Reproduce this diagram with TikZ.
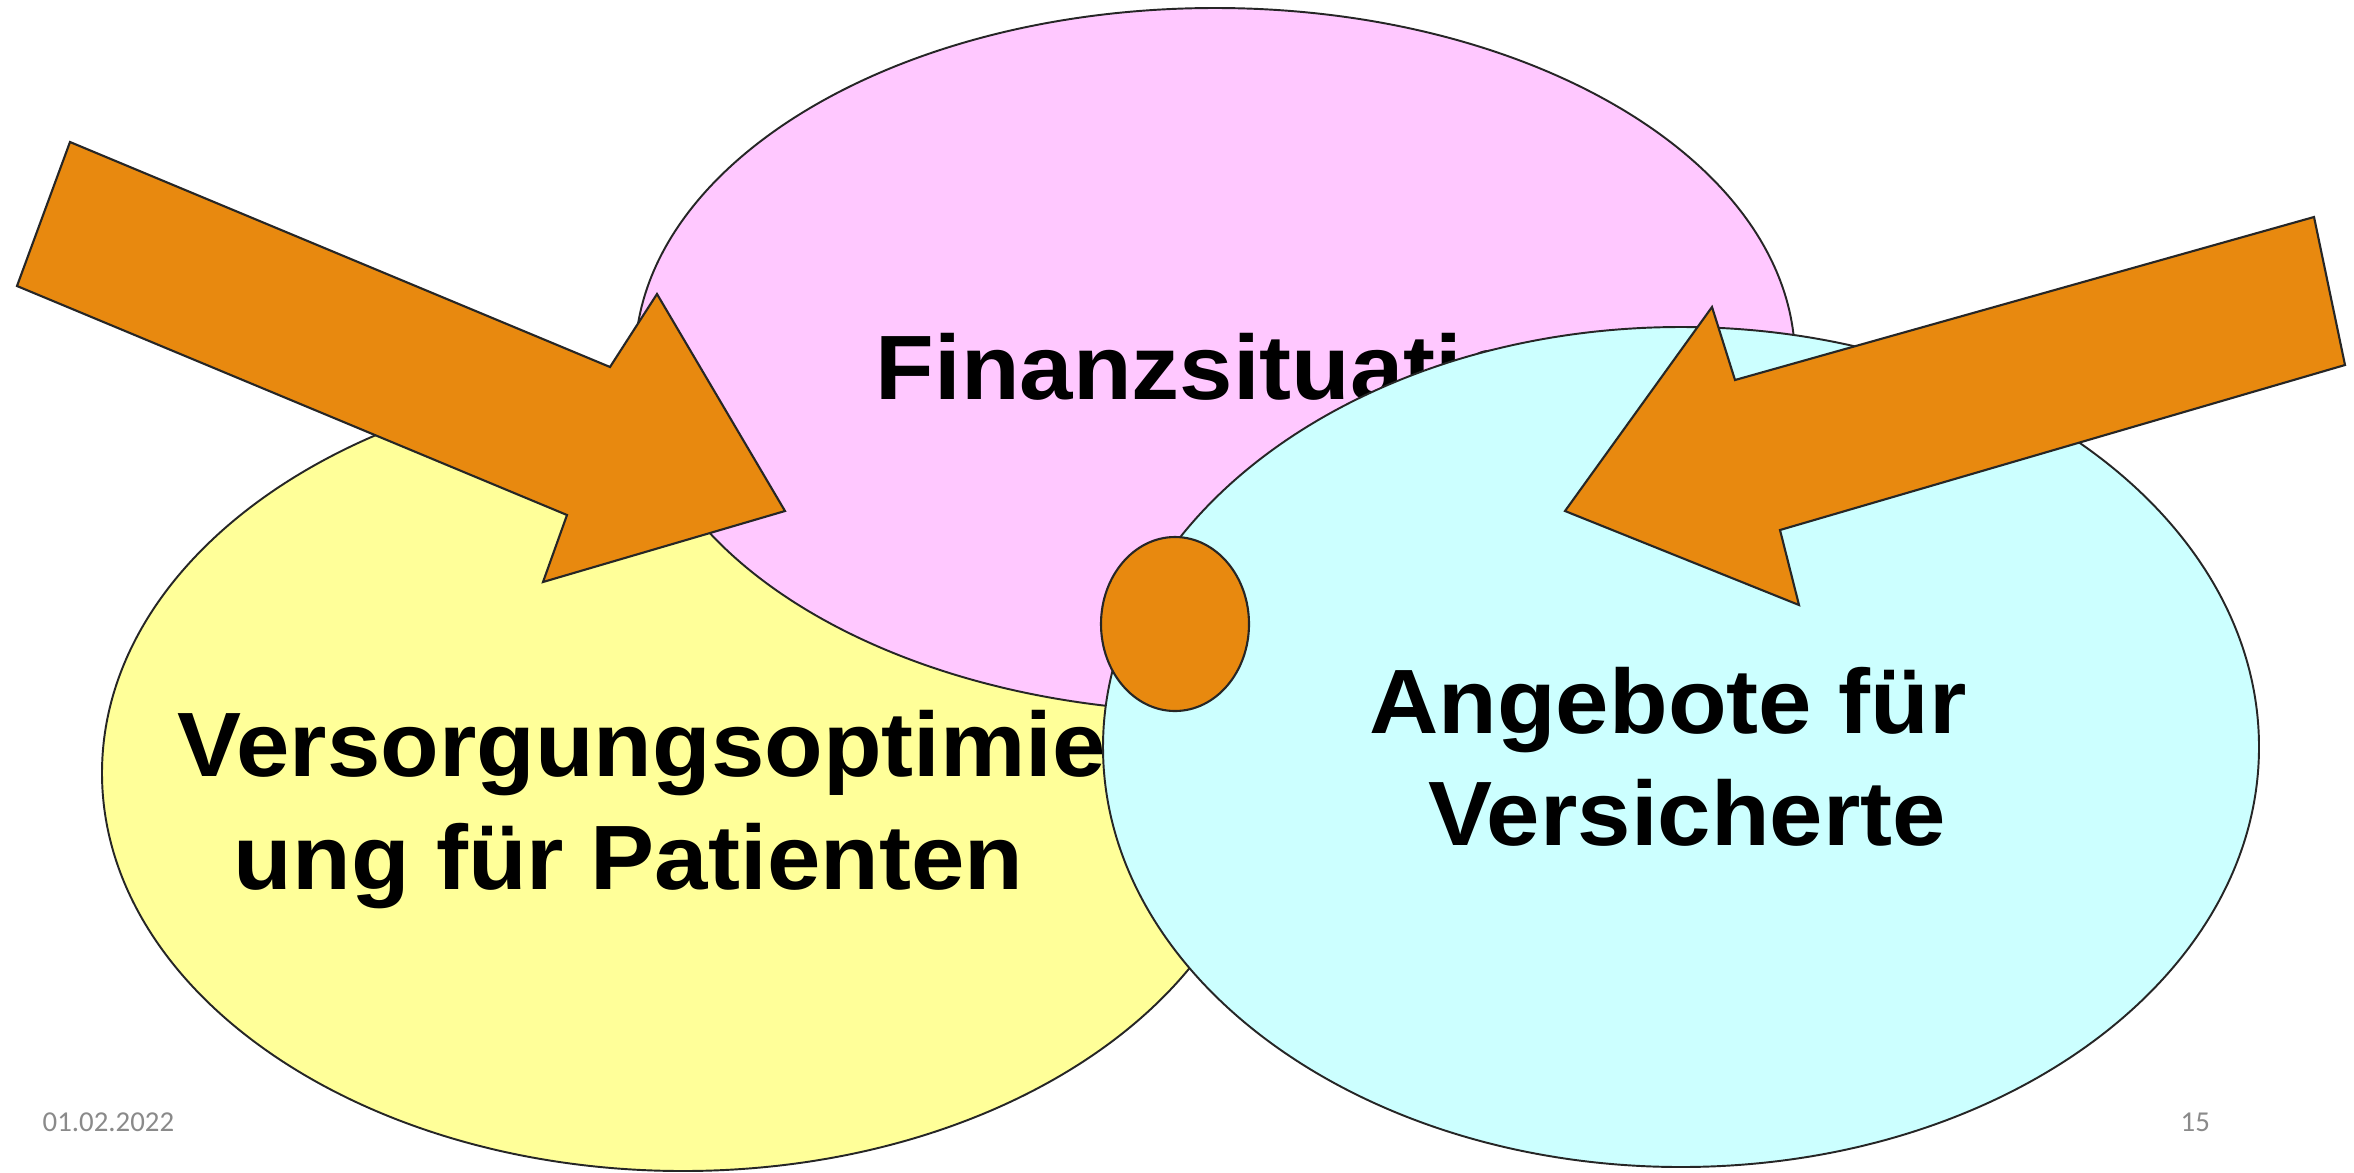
\documentclass[tikz,border=0pt]{standalone}
\usepackage{fontspec}
\setmainfont{Liberation Sans}
\newfontfamily\labelfont[FakeStretch=1.05]{Liberation Sans}
\newfontfamily\footfont{Carlito}
\usetikzlibrary{positioning}

\definecolor{pinkfill}{HTML}{FFC8FF}
\definecolor{yellowfill}{HTML}{FFFF99}
\definecolor{cyanfill}{HTML}{CCFFFF}
\definecolor{arroworange}{HTML}{E8890F}
\definecolor{footgray}{HTML}{8A8A8A}

\tikzset{
  bubble/.style={draw=black!85, line width=0.55pt},
  bigarrow/.style={draw=black!85, line width=0.6pt, fill=arroworange, line join=miter},
  bubbletext/.style={font=\labelfont\bfseries\fontsize{26}{30}\selectfont, inner sep=0pt},
  foottext/.style={font=\footfont\fontsize{8.2}{10}\selectfont, text=footgray, inner sep=0pt}
}

\begin{document}
\begin{tikzpicture}[x=0.01cm, y=-0.01cm]
  \useasboundingbox (0,0) rectangle (2354,1172);
  \fill[white] (0,0) rectangle (2354,1172);
  \clip (0,0) rectangle (2354,1172);
  % Yellow bubble
  \filldraw[bubble, fill=yellowfill] (683,773) ellipse [x radius=581, y radius=398];
  \node[bubbletext, anchor=base west] (versorgung) at (177,776) {Versorgungsoptimier-};
  \node[bubbletext, anchor=base west] (patienten) at (233,889) {ung für Patienten};
  % Pink bubble
  \filldraw[bubble, fill=pinkfill] (1215,360) ellipse [x radius=580, y radius=352];
  \node[bubbletext, anchor=base west] (finanz) at (875,399) {Finanzsituation};
  % Cyan bubble
  \filldraw[bubble, fill=cyanfill] (1681,747) ellipse [x radius=578, y radius=420];
  \node[bubbletext, anchor=base] (angebote) at (1668,733) {Angebote für};
  \node[bubbletext, anchor=base] (versicherte) at (1687,845) {Versicherte};
  % Arrows
  \draw[bigarrow] (70,142) -- (610,367) -- (657,294) -- (785,511) -- (543,582)
    -- (567,515) -- (17,286) -- cycle;
  \draw[bigarrow] (2314,217) -- (2345,365) -- (1780,530) -- (1799,605)
    -- (1565,511) -- (1712,307) -- (1735,380) -- cycle;
  % Joint
  \draw[bigarrow] (1175,624) ellipse [x radius=74, y radius=87];
  % Footer
  \node[foottext, anchor=base west] (datum) at (42,1131) {01.02.2022};
  \node[foottext, anchor=base west] (seite) at (2180,1131) {15};
\end{tikzpicture}
\end{document}
